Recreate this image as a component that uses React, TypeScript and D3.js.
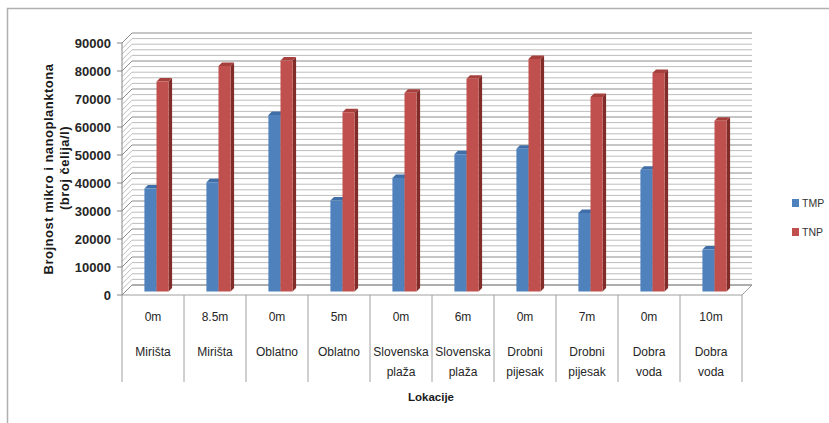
import * as d3 from "d3";

const depths = ["0m", "8.5m", "0m", "5m", "0m", "6m", "0m", "7m", "0m", "10m"];
const locations = [
  "Mirišta",
  "Mirišta",
  "Oblatno",
  "Oblatno",
  "Slovenska plaža",
  "Slovenska plaža",
  "Drobni pijesak",
  "Drobni pijesak",
  "Dobra voda",
  "Dobra voda",
];
const series = ["TMP", "TNP"];
const tmp = [36800, 39000, 63000, 32500, 40500, 49000, 51000, 28000, 43500, 15000];
const tnp = [75000, 80500, 82500, 64000, 71000, 76000, 83000, 69500, 78000, 61000];
const yTicks = [0, 10000, 20000, 30000, 40000, 50000, 60000, 70000, 80000, 90000];

const colors = {
  TMP: { front: "#4F81BD", top: "#3F6EA8", side: "#2F5686" },
  TNP: { front: "#C0504D", top: "#A6403D", side: "#822C2A" },
};

const W = 829;
const H = 423;
const D = 10; // 3d depth offset
const font = "Arial, 'Liberation Sans', sans-serif";

const App = () => {
  const idx = depths.map((_, i) => String(i));
  const y = d3.scaleLinear().domain([0, 90000]).range([295, 43]);
  const xCat = d3.scaleBand().domain(idx).range([122, 742]);
  const xBar = d3
    .scaleBand()
    .domain(idx)
    .range([122, 742])
    .paddingInner(0.61)
    .paddingOuter(0.305);
  const xSer = d3.scaleBand().domain(series).range([0, xBar.bandwidth()]);

  const proj = (x: number, v: number, z: number) => [x + z * D, y(v) - z * D];
  const poly = (pts: number[][]) => pts.map((p) => p.join(",")).join(" ");

  const grid = d3.range(0, 90001, 2000);
  const z0 = 0.35;
  const z1 = 0.7;

  const bars: any[] = [];
  idx.forEach((c, i) => {
    [tmp[i], tnp[i]].forEach((v, s) => {
      const name = series[s];
      const a = xBar(c)! + xSer(name)!;
      const w = xSer.bandwidth();
      bars.push({ key: `${c}-${name}`, a, w, v, col: colors[name] });
    });
  });

  return (
    <svg
      width={W}
      height={H}
      style={{ position: "absolute", left: 0, top: 0, background: "#fff" }}
    >
      {/* outer frame */}
      <path d={`M7.5,${H + 5} V8.5 H${W + 5}`} fill="none" stroke="#b0b0b0" strokeWidth={1.5} />

      {/* floor */}
      <polygon
        points={poly([proj(122, 0, 0), proj(742, 0, 0), proj(742, 0, 1), proj(122, 0, 1)])}
        fill="#fff"
        stroke="#a0a0a0"
        strokeWidth={1}
      />

      {/* walls gridlines */}
      {grid.map((v) => {
        const major = v % 10000 === 0;
        const [bx, by] = proj(122, v, 1);
        const [ex] = proj(742, v, 1);
        const [fx, fy] = proj(122, v, 0);
        const stroke = major ? "#8c8c8c" : "#bdbdbd";
        return (
          <g key={v}>
            <line x1={bx} y1={by} x2={ex} y2={by} stroke={stroke} strokeWidth={1} />
            <line x1={fx} y1={fy} x2={bx} y2={by} stroke={stroke} strokeWidth={1} />
          </g>
        );
      })}

      {/* y axis */}
      <line x1={122} y1={y(90000)} x2={122} y2={y(0)} stroke="#868686" />
      {yTicks.map((t) => (
        <g key={t}>
          <line x1={117} y1={y(t)} x2={122} y2={y(t)} stroke="#868686" />
          <text
            x={111}
            y={y(t) + 4.5}
            textAnchor="end"
            fontFamily={font}
            fontWeight="bold"
            fontSize={13}
            fill="#262626"
          >
            {t}
          </text>
        </g>
      ))}

      {/* bars */}
      {bars.map((b) => {
        const { a, w, v, col } = b;
        return (
          <g key={b.key}>
            <polygon
              points={poly([proj(a + w, 0, z0), proj(a + w, 0, z1), proj(a + w, v, z1), proj(a + w, v, z0)])}
              fill={col.side}
            />
            <polygon
              points={poly([proj(a, v, z0), proj(a + w, v, z0), proj(a + w, v, z1), proj(a, v, z1)])}
              fill={col.top}
            />
            <polygon
              points={poly([proj(a, 0, z0), proj(a + w, 0, z0), proj(a + w, v, z0), proj(a, v, z0)])}
              fill={col.front}
            />
          </g>
        );
      })}

      {/* category table */}
      {[...idx, "end"].map((c, i) => {
        const x = i < idx.length ? xCat(c)! : 742;
        return <line key={c} x1={x} y1={295} x2={x} y2={382} stroke="#a0a0a0" />;
      })}
      {idx.map((c, i) => {
        const cx = xCat(c)! + xCat.bandwidth() / 2;
        const parts = locations[i].split(" ");
        return (
          <g key={c} fontFamily={font} fontSize={12} fill="#262626" textAnchor="middle">
            <text x={cx} y={321}>
              {depths[i]}
            </text>
            {parts.map((p, j) => (
              <text key={j} x={cx} y={356 + j * 20}>
                {p}
              </text>
            ))}
          </g>
        );
      })}

      {/* axis titles */}
      <text
        x={431}
        y={401}
        textAnchor="middle"
        fontFamily={font}
        fontWeight="bold"
        fontSize={11.5}
        fill="#1a1a1a"
      >
        Lokacije
      </text>
      <g fontFamily={font} fontWeight="bold" fontSize={13} fill="#1a1a1a" textAnchor="middle" letterSpacing={0.5}>
        <text transform="translate(53,169) rotate(-90)">Brojnost mikro i nanoplanktona</text>
        <text transform="translate(69,168) rotate(-90)">(broj čelija/l)</text>
      </g>

      {/* legend */}
      {series.map((s, i) => (
        <g key={s} transform={`translate(792,${199 + i * 29})`}>
          <rect width={7} height={8} fill={colors[s].front} />
          <text x={10} y={8} fontFamily={font} fontSize={10.5} fill="#333">
            {s}
          </text>
        </g>
      ))}
    </svg>
  );
};

export default App;
